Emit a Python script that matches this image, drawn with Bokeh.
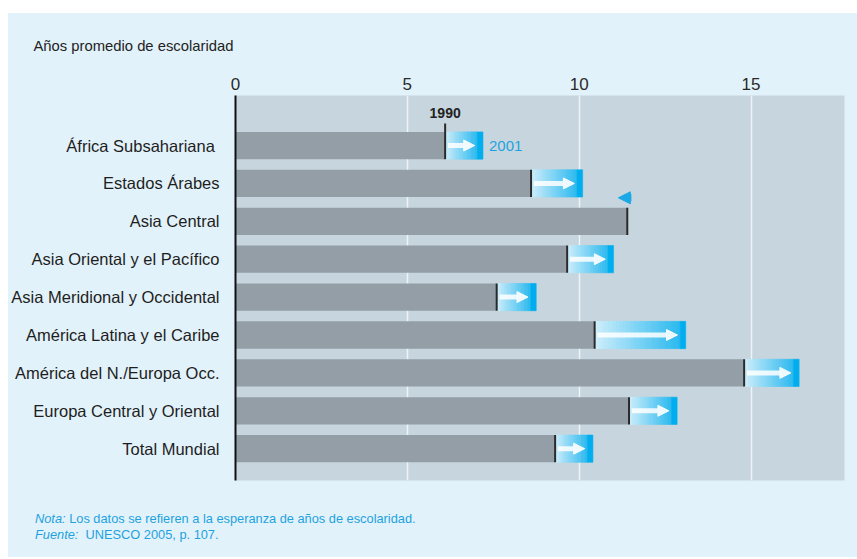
from bokeh.plotting import figure
from bokeh.models import (Range1d, FixedTicker, ColumnDataSource, Arrow, NormalHead,
                          Label, Spacer, Title, Div)
from bokeh.layouts import column, row
from bokeh.embed import file_html
from bokeh.resources import INLINE

# ---------------- data ----------------
regions = ["África  Subsahariana", "Estados Árabes", "Asia Central",
           "Asia Oriental y el Pacífico", "Asia Meridional y Occidental",
           "América Latina y el Caribe", "América del N./Europa Occ.",
           "Europa Central y Oriental", "Total Mundial"]
years_1990 = [6.1, 8.6, 11.4, 9.65, 7.6, 10.45, 14.8, 11.45, 9.3]
years_2001 = [7.2, 10.1, 11.2, 11.0, 8.75, 13.1, 16.4, 12.85, 10.4]
x_ticks = [0, 5, 10, 15]
title_text = "Años promedio de escolaridad"
note_label = "Nota:"
note_text = "Los datos se refieren a la esperanza de años de escolaridad."
source_label = "Fuente:"
source_text = "UNESCO 2005, p. 107."

# ---------------- layout constants ----------------
PAGE_LEFT, PAGE_TOP = 8, 13
W, H = 849, 487
NOTE_H = 57
ML, MT, MB, MR = 227, 82, 20, 13
X0, X1 = 0, 17.72
Y0, Y1 = -0.84, 9.32

PANEL = "#e2f2fa"
PLOT_BG = "#c7d6de"
BAR = "#939ea7"
CYAN = "#00aeef"
TEXT_BLUE = "#1ea2df"

n = len(regions)
rows = [n - 1 - i for i in range(n)]
BAR_H = 0.72

p = figure(width=W, height=H, x_range=Range1d(X0, X1), y_range=Range1d(Y0, Y1),
           output_backend="svg", toolbar_location=None, x_axis_location="above",
           min_border_left=ML, min_border_top=MT, min_border_bottom=MB,
           min_border_right=MR)
p.background_fill_color = PLOT_BG
p.border_fill_color = PANEL
p.outline_line_color = None

# axes
xa = p.xaxis[0]
xa.ticker = FixedTicker(ticks=x_ticks)
xa.axis_line_color = None
xa.major_tick_line_color = None
xa.minor_tick_line_color = None
xa.major_label_text_font = "Liberation Sans"
xa.major_label_text_font_size = "17px"
xa.major_label_text_color = "#2a2a2a"
xa.major_label_standoff = 0

ya = p.yaxis[0]
ya.ticker = FixedTicker(ticks=rows)
ya.major_label_overrides = {r: name for r, name in zip(rows, regions)}
ya.axis_line_color = "#111111"
ya.axis_line_width = 2
ya.major_tick_line_color = None
ya.minor_tick_line_color = None
ya.major_label_standoff = 10
ya.major_label_text_font = "Liberation Sans"
ya.major_label_text_font_size = "16.5px"
ya.major_label_text_color = "#1e1e1e"

p.ygrid.grid_line_color = None
p.xgrid.ticker = FixedTicker(ticks=[t for t in x_ticks if t > 0])
p.xgrid.grid_line_color = "#edf3f6"
p.xgrid.grid_line_width = 1.5

# title
p.add_layout(Title(text=title_text, align="left", offset=-202, standoff=42,
                   text_font="Liberation Sans", text_font_size="14.8px",
                   text_font_style="normal", text_color="#222222"), "above")

# 1990 bars
p.hbar(y=rows, left=0, right=years_1990, height=BAR_H, fill_color=BAR, line_color=None)

# gradient arrows (increase)
c0 = (205, 238, 251)
c1 = (45, 186, 240)
N = 24
END_W = 0.16
gl, gr, gt, gb, gc = [], [], [], [], []
ar = dict(xs=[], xe=[], y=[])
for r, a, b in zip(rows, years_1990, years_2001):
    if b <= a:
        continue
    e = b - END_W
    for k in range(N):
        t = k / (N - 1)
        col = "#%02x%02x%02x" % tuple(int(round(c0[j] + (c1[j] - c0[j]) * t)) for j in range(3))
        gl.append(a + (e - a) * k / N)
        gr.append(a + (e - a) * (k + 1) / N)
        gt.append(r + BAR_H / 2)
        gb.append(r - BAR_H / 2)
        gc.append(col)
    gl.append(e)
    gr.append(b)
    gt.append(r + BAR_H / 2)
    gb.append(r - BAR_H / 2)
    gc.append(CYAN)
    ar["xs"].append(a + 0.08)
    ar["xe"].append(b - 0.24)
    ar["y"].append(r)

p.quad(left=gl, right=gr, top=gt, bottom=gb, fill_color=gc, line_color=gc, line_width=0.6)

arrow_src = ColumnDataSource(data=dict(xs=ar["xs"], xe=ar["xe"], ys=ar["y"], ye=ar["y"]))
p.add_layout(Arrow(source=arrow_src, x_start="xs", y_start="ys", x_end="xe", y_end="ye",
                   line_color="white", line_width=5, line_alpha=0.85,
                   end=NormalHead(size=11, fill_color="white", line_color="white",
                                  fill_alpha=0.9, line_alpha=0.9)))

# decrease arrows
dec = dict(xs=[], xe=[], ys=[], ye=[])
for r, a, b in zip(rows, years_1990, years_2001):
    if b < a:
        dec["xs"].append(a + 0.12)
        dec["xe"].append(b - 0.06)
        dec["ys"].append(r + 0.62)
        dec["ye"].append(r + 0.62)
p.add_layout(Arrow(source=ColumnDataSource(data=dec), x_start="xs", y_start="ys",
                   x_end="xe", y_end="ye", line_color="#1aa8e6", line_width=7,
                   end=NormalHead(size=12, fill_color="#1aa8e6", line_color="#1aa8e6")))

# 1990 marker lines
top_ext = [r + BAR_H / 2 if i > 0 else r + 0.58 for i, r in enumerate(rows)]
p.segment(x0=years_1990, y0=[r - BAR_H / 2 for r in rows], x1=years_1990, y1=top_ext,
          line_color="#2a2a2a", line_width=2)

# year labels on first row
p.add_layout(Label(x=years_1990[0], y=rows[0] + 0.87, text="1990", text_align="center",
                   text_baseline="middle", text_font="Liberation Sans",
                   text_font_style="bold", text_font_size="14px", text_color="#222222"))
p.add_layout(Label(x=years_2001[0], x_offset=6, y=rows[0], text="2001", text_align="left",
                   text_baseline="middle", text_font="Liberation Sans",
                   text_font_size="15px", text_color=TEXT_BLUE))

# notes
notes = Div(
    text=(f"<div style='padding:11px 0 0 27px'><i>{note_label}</i> {note_text}<br>"
          f"<i>{source_label}</i>&nbsp; {source_text}</div>"),
    width=W, height=NOTE_H, margin=0,
    styles={"background-color": PANEL, "color": TEXT_BLUE,
            "font-family": "'Liberation Sans', Arial, sans-serif",
            "font-size": "12.8px", "line-height": "16px",
            "width": f"{W}px", "min-width": f"{W}px"})

inner = column(p, notes, styles={"background-color": PANEL})
layout = column(Spacer(width=W, height=PAGE_TOP),
                row(Spacer(width=PAGE_LEFT, height=H + NOTE_H), inner))
open("out.html", "w").write(file_html(layout, INLINE))
